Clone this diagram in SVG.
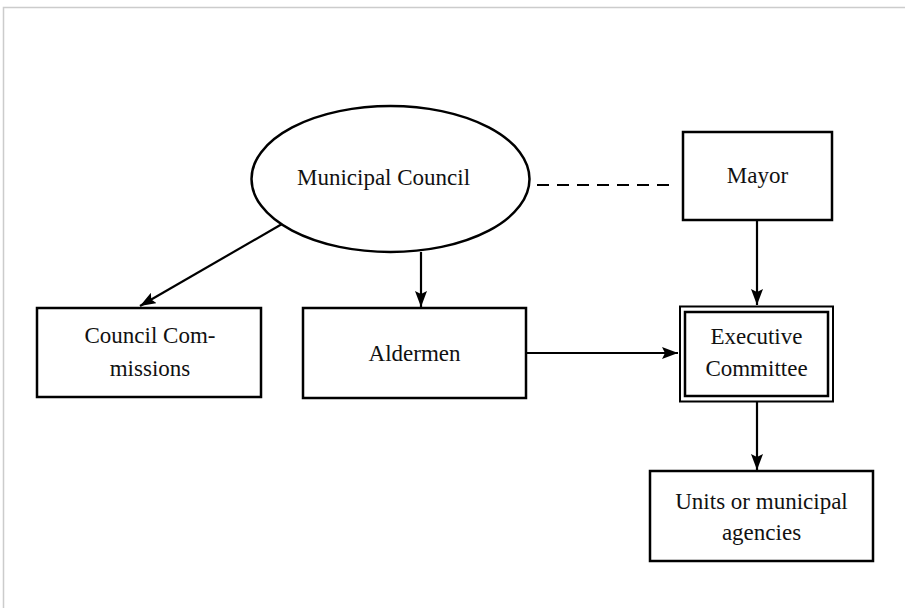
<svg xmlns="http://www.w3.org/2000/svg" width="905" height="608" viewBox="0 0 905 608">
<style>
.box{fill:#fff;stroke:#000;stroke-width:2.5}
.ln{fill:none;stroke:#000;stroke-width:2.2}
.t{font-family:"Liberation Serif","Times New Roman",serif;font-size:23px;fill:#111;text-anchor:middle}
</style>
<defs>
<marker id="ah" viewBox="0 0 16 12" refX="16" refY="6" markerWidth="16" markerHeight="12" markerUnits="userSpaceOnUse" orient="auto">
<path d="M0,0 L16,6 L0,12 L3,6 Z" fill="#000"/>
</marker>
</defs>
<rect x="0" y="0" width="905" height="608" fill="#fff"/>
<rect x="3.5" y="7.5" width="920" height="620" fill="none" stroke="#cccccc" stroke-width="1.5"/>
<g id="connectors">
<line class="ln" x1="537" y1="185" x2="673" y2="185" stroke-dasharray="12 8"/>
<line class="ln" x1="282" y1="224" x2="140" y2="306" marker-end="url(#ah)"/>
<line class="ln" x1="421" y1="252" x2="421" y2="307" marker-end="url(#ah)"/>
<line class="ln" x1="757" y1="220" x2="757" y2="305" marker-end="url(#ah)"/>
<line class="ln" x1="526" y1="353" x2="678" y2="353" marker-end="url(#ah)"/>
<line class="ln" x1="757" y1="402" x2="757" y2="470" marker-end="url(#ah)"/>
</g>
<g id="municipal-council">
<ellipse cx="390.5" cy="179" rx="139" ry="73" fill="#fff" stroke="#000" stroke-width="2.5"/>
<text class="t" x="383.5" y="185">Municipal Council</text>
</g>
<g id="mayor">
<rect class="box" x="683" y="132" width="149" height="88"/>
<text class="t" x="757.5" y="183">Mayor</text>
</g>
<g id="council-commissions">
<rect class="box" x="37" y="308" width="224" height="89"/>
<text class="t" x="150" y="343">Council Com-</text>
<text class="t" x="150" y="376">missions</text>
</g>
<g id="aldermen">
<rect class="box" x="303" y="308" width="223" height="90"/>
<text class="t" x="414.5" y="361">Aldermen</text>
</g>
<g id="executive-committee">
<rect x="680" y="306.5" width="153" height="95" fill="#fff" stroke="#000" stroke-width="2"/>
<rect x="685" y="312" width="143" height="84" fill="none" stroke="#000" stroke-width="2.5"/>
<text class="t" x="756.5" y="344">Executive</text>
<text class="t" x="756.5" y="376">Committee</text>
</g>
<g id="units">
<rect class="box" x="650" y="471" width="223" height="90"/>
<text class="t" x="761.5" y="509">Units or municipal</text>
<text class="t" x="761.5" y="540">agencies</text>
</g>
</svg>
